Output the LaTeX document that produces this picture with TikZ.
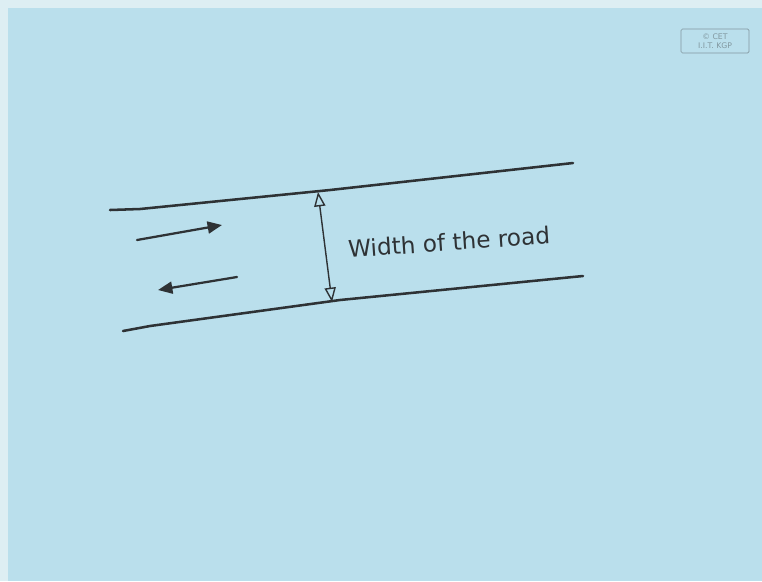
\documentclass[tikz,border=0pt]{standalone}
\usepackage{fontspec}
\setsansfont{DejaVu Sans}
\usetikzlibrary{arrows.meta,positioning}
\definecolor{boardblue}{HTML}{BADFEC}
\definecolor{boardedge}{HTML}{DDEEF3}
\definecolor{penink}{HTML}{2E3235}
\definecolor{logogray}{HTML}{8298A0}

\begin{document}
\begin{tikzpicture}[
  x=0.025cm, y=-0.025cm,
  font=\sffamily\fontsize{16.5}{19}\selectfont,
  edge/.style={line width=1.8pt, draw=penink, line cap=round, line join=round},
  lane/.style={-{Triangle[length=3.6mm, width=3mm]}, line width=1.6pt,
    draw=penink, line cap=round},
  span/.style={{Triangle[open, length=3.6mm, width=2.8mm]}-{Triangle[open, length=3.6mm, width=2.8mm]},
    line width=1pt, draw=penink},
  label/.style={text=penink, inner sep=1pt},
  logo/.style={draw=logogray, rounded corners=1pt, text=logogray, align=center,
    font=\sffamily\fontsize{5.5}{6}\selectfont, minimum width=1.7cm,
    minimum height=0.6cm, inner sep=1pt}
]
% board
\fill[boardedge] (0,0) rectangle (762,581);
\fill[boardblue] (8,8) rectangle (762,581);
\useasboundingbox (0,0) rectangle (762,581);

% road edges
\coordinate (topL) at (110,210);
\coordinate (topR) at (573,163);
\coordinate (botL) at (123,331);
\coordinate (botR) at (583,276);
\draw[edge] (topL) -- (140,209) -- (330,190) -- (topR);
\draw[edge] (botL) -- (150,326) -- (340,300) -- (botR);

% traffic directions
\coordinate (upA) at (137,240);
\coordinate (upB) at (222,225);
\coordinate (dnA) at (237,277);
\coordinate (dnB) at (158,290);
\draw[lane] (upA) -- (upB);
\draw[lane] (dnA) -- (dnB);

% width of the road
\coordinate (wTop) at (318,192);
\coordinate (wBot) at (332,302);
\draw[span] (wTop) -- (wBot);
\node[label, rotate=4] (width) at (449,242) {Width of the road};

\node[logo] (cet) at (715,41) {\textcopyright{} CET\\I.I.T. KGP};
\end{tikzpicture}
\end{document}
